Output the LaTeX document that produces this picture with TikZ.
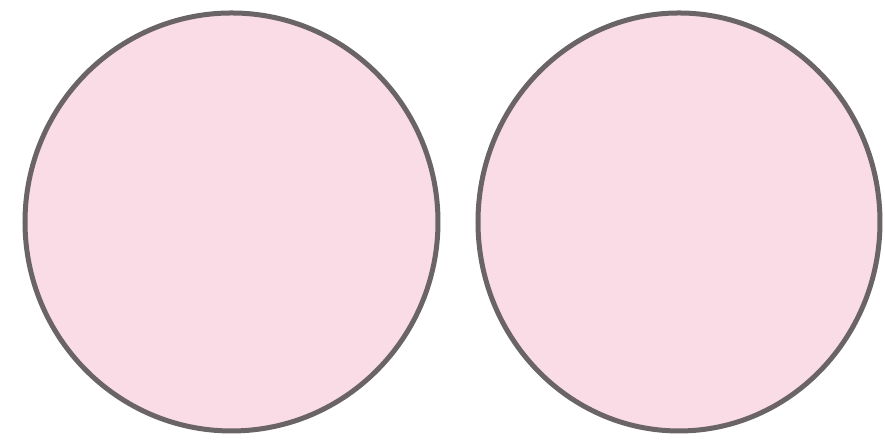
\documentclass[tikz,border=0pt]{standalone}
\usepackage{xcolor}
\usepackage{tikz}
\usetikzlibrary{positioning, shapes}

\definecolor{disc}{HTML}{FADCE6}
\definecolor{rim}{HTML}{6A6466}

\begin{document}
\begin{tikzpicture}[disk/.style={draw=rim, line width=0.05cm, fill=disc, ellipse, inner sep=0pt}]
  \useasboundingbox (0,0) rectangle (8.85,4.43);
  \node (leftdisk) [disk, minimum width=4.13cm, minimum height=4.18cm] at (2.315,2.21) {};
  \node (rightdisk) [disk, minimum width=4.02cm, minimum height=4.18cm] at (6.79,2.21) {};
\end{tikzpicture}
\end{document}
